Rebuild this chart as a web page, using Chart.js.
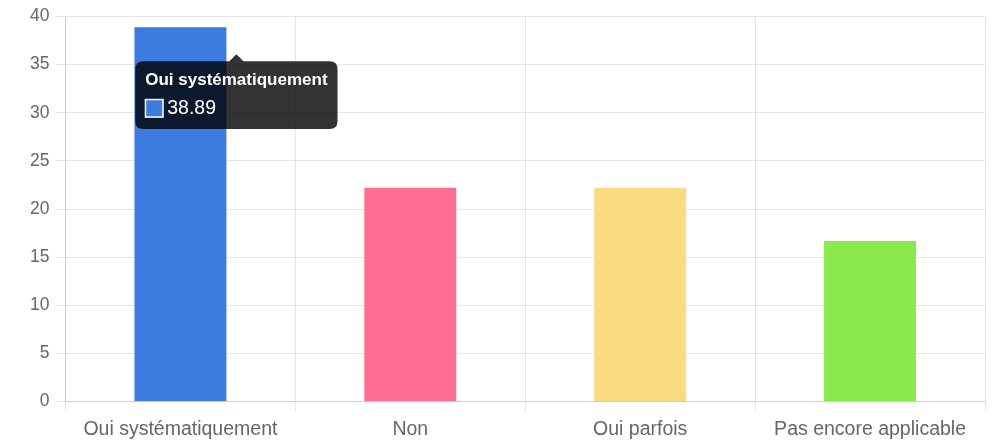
<!DOCTYPE html>
<html>
<head>
<meta charset="utf-8">
<script src="https://cdn.jsdelivr.net/npm/chart.js@4/dist/chart.umd.min.js"></script>
<style>
  html, body { margin: 0; padding: 0; background: #fff; }
  #wrap { width: 994px; height: 440px; }
</style>
</head>
<body>
<div id="wrap"><canvas id="answersChart"></canvas></div>
<script>
const categories = ['Oui systématiquement', 'Non', 'Oui parfois', 'Pas encore applicable'];
const percentages = [38.89, 22.22, 22.22, 16.67];
const barColors = ['#3e7be0', '#ff6e92', '#fadb82', '#8bea4b'];
const yTicks = [0, 5, 10, 15, 20, 25, 30, 35, 40];

document.addEventListener('DOMContentLoaded', function () {
  Chart.defaults.font.family = "'Liberation Sans', Arial, sans-serif";
  Chart.defaults.color = '#666';

  // tooltip hangs just below the top-right corner of the hovered bar
  Chart.Tooltip.positioners.barCorner = function (items) {
    if (!items.length) return false;
    const el = items[0].element;
    return { x: el.x + el.width / 2 + 10, y: el.y + 25 };
  };

  const ctx = document.getElementById('answersChart');
  const chart = new Chart(ctx, {
    type: 'bar',
    data: {
      labels: categories,
      datasets: [{
        data: percentages,
        backgroundColor: barColors,
        borderColor: '#fff',
        borderWidth: 0,
        barPercentage: 0.5,
        categoryPercentage: 0.8
      }]
    },
    options: {
      responsive: true,
      maintainAspectRatio: false,
      animation: false,
      layout: { padding: { top: 9, left: 24, right: 9, bottom: -7 } },
      plugins: {
        legend: { display: false },
        tooltip: {
          position: 'barCorner',
          xAlign: 'center',
          yAlign: 'top',
          backgroundColor: 'rgba(0,0,0,0.8)',
          cornerRadius: 8,
          padding: { x: 10, y: 9 },
          caretSize: 7,
          titleFont: { size: 17, weight: 'bold' },
          bodyFont: { size: 19.5 },
          boxWidth: 18,
          boxHeight: 18,
          boxPadding: 2
        }
      },
      scales: {
        y: {
          min: 0,
          max: 40,
          afterBuildTicks: axis => { axis.ticks = yTicks.map(v => ({ value: v })); },
          ticks: { font: { size: 17.5 }, padding: 6 },
          grid: { color: 'rgba(0,0,0,0.1)', tickLength: 10 }
        },
        x: {
          ticks: { font: { size: 19.5 }, padding: 6 },
          grid: { color: 'rgba(0,0,0,0.1)', tickLength: 10 }
        }
      }
    }
  });

  chart.tooltip.setActiveElements([{ datasetIndex: 0, index: 0 }], { x: 0, y: 0 });
  chart.update();
});
</script>
</body>
</html>
